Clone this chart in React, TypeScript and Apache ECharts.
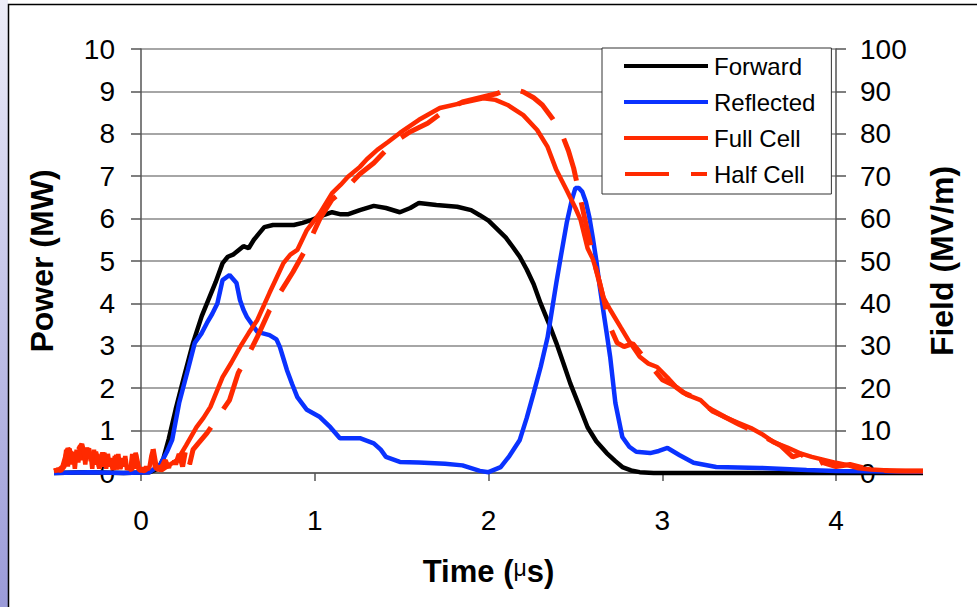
import { useEffect, useRef } from "react";
import * as echarts from "echarts";

// Time axis tick labels (µs)
const timeTicks = [0, 1, 2, 3, 4];

// Forward power (MW)
const forwardT = [-0.5, -0.3, -0.1, 0.05, 0.1, 0.13, 0.16, 0.2, 0.25, 0.3, 0.35, 0.39, 0.43, 0.47, 0.5, 0.53, 0.56, 0.59, 0.62, 0.65, 0.68, 0.71, 0.76, 0.82, 0.88, 0.93, 0.97, 1.03, 1.1, 1.15, 1.19, 1.26, 1.34, 1.41, 1.49, 1.55, 1.6, 1.7, 1.82, 1.9, 1.95, 2.0, 2.05, 2.1, 2.14, 2.18, 2.22, 2.26, 2.3, 2.35, 2.39, 2.43, 2.47, 2.52, 2.57, 2.62, 2.68, 2.73, 2.77, 2.82, 2.87, 2.95, 3.2, 3.6, 4.0, 4.5];
const forwardP = [0, 0.02, 0, 0.02, 0.1, 0.35, 0.8, 1.5, 2.3, 3.07, 3.7, 4.1, 4.5, 4.95, 5.1, 5.15, 5.25, 5.35, 5.3, 5.5, 5.65, 5.8, 5.85, 5.85, 5.85, 5.9, 5.95, 6.05, 6.15, 6.1, 6.1, 6.2, 6.3, 6.25, 6.15, 6.25, 6.37, 6.32, 6.28, 6.2, 6.08, 5.95, 5.75, 5.55, 5.33, 5.1, 4.8, 4.45, 4.0, 3.5, 3.07, 2.6, 2.12, 1.6, 1.08, 0.75, 0.47, 0.28, 0.14, 0.06, 0.02, 0, 0, 0, 0, 0];

// Reflected power (MW)
const reflectedT = [-0.5, -0.3, -0.1, 0.05, 0.11, 0.15, 0.18, 0.22, 0.27, 0.31, 0.35, 0.38, 0.41, 0.44, 0.47, 0.51, 0.55, 0.57, 0.59, 0.61, 0.64, 0.67, 0.74, 0.78, 0.8, 0.82, 0.84, 0.87, 0.9, 0.955, 1.03, 1.09, 1.145, 1.26, 1.34, 1.38, 1.41, 1.49, 1.6, 1.75, 1.85, 1.95, 2.0, 2.07, 2.12, 2.18, 2.22, 2.26, 2.3, 2.34, 2.39, 2.42, 2.45, 2.48, 2.5, 2.52, 2.54, 2.56, 2.58, 2.6, 2.62, 2.64, 2.66, 2.68, 2.7, 2.73, 2.77, 2.81, 2.85, 2.93, 2.98, 3.03, 3.1, 3.18, 3.31, 3.56, 3.83, 4.0, 4.5];
const reflectedP = [0, 0.02, 0, 0.02, 0.19, 0.5, 0.78, 1.65, 2.43, 3.07, 3.3, 3.54, 3.75, 4.0, 4.55, 4.67, 4.48, 4.08, 3.85, 3.68, 3.5, 3.33, 3.25, 3.15, 2.97, 2.7, 2.43, 2.1, 1.79, 1.49, 1.32, 1.08, 0.82, 0.82, 0.7, 0.55, 0.38, 0.26, 0.25, 0.22, 0.18, 0.05, 0.02, 0.14, 0.4, 0.78, 1.3, 1.89, 2.5, 3.2, 4.48, 5.2, 5.9, 6.45, 6.72, 6.72, 6.63, 6.4, 6.04, 5.55, 5.02, 4.4, 3.84, 3.3, 2.74, 1.65, 0.85, 0.62, 0.5, 0.47, 0.52, 0.59, 0.42, 0.24, 0.14, 0.12, 0.07, 0.05, 0.03];

// Full cell field (MV/m)
const fullT = [-0.5, -0.48, -0.46, -0.44, -0.43, -0.42, -0.41, -0.4, -0.39, -0.38, -0.37, -0.36, -0.35, -0.34, -0.33, -0.32, -0.31, -0.3, -0.29, -0.28, -0.27, -0.26, -0.25, -0.24, -0.23, -0.22, -0.21, -0.2, -0.19, -0.18, -0.17, -0.16, -0.15, -0.14, -0.13, -0.12, -0.11, -0.1, -0.09, -0.08, -0.07, -0.06, -0.05, -0.04, -0.03, -0.02, -0.01, 0.0, 0.01, 0.02, 0.03, 0.04, 0.05, 0.06, 0.07, 0.08, 0.09, 0.1, 0.12, 0.16, 0.21, 0.26, 0.32, 0.36, 0.4, 0.47, 0.52, 0.57, 0.62, 0.67, 0.74, 0.78, 0.82, 0.86, 0.9, 0.955, 1.03, 1.1, 1.15, 1.19, 1.26, 1.3, 1.36, 1.42, 1.49, 1.6, 1.72, 1.85, 1.97, 2.04, 2.11, 2.2, 2.28, 2.34, 2.39, 2.45, 2.5, 2.53, 2.57, 2.6, 2.64, 2.66, 2.7, 2.76, 2.81, 2.87, 2.92, 2.97, 3.03, 3.08, 3.14, 3.22, 3.29, 3.37, 3.44, 3.51, 3.58, 3.64, 3.72, 3.79, 3.86, 3.93, 4.0, 4.06, 4.12, 4.2, 4.3, 4.4, 4.5];
const fullF = [0.5, 0.8, 0.5, 1.5, 5.5, 1.5, 5.8, 2, 5, 1, 5.5, 2.5, 6.5, 3, 6, 2, 6, 3.5, 5, 1, 5.5, 2, 4.5, 1, 4, 1.5, 4.8, 1, 4.5, 1.5, 3.5, 1, 4, 0.8, 4.5, 1, 3.5, 1.5, 4, 0.8, 1.5, 0.8, 4.5, 1, 4.8, 1.5, 0.8, 0.5, 1.2, 0.6, 1.5, 0.8, 1.5, 4, 5.5, 1.5, 1, 0.8, 0.7, 1.8, 3.1, 6.5, 10.8, 13, 15.6, 22.6, 26, 29.7, 33, 36.1, 42.5, 46, 49.5, 51.5, 52.6, 57.3, 61.3, 66, 68, 69.8, 72.2, 74, 76.2, 78, 80.2, 83.3, 86.1, 87.3, 88.4, 88, 86.8, 84.4, 80.9, 76.9, 71.5, 66.7, 62.5, 59.7, 53, 50.5, 45, 41.5, 38.5, 34.4, 31, 27.4, 25.8, 25, 22.5, 20.3, 18.5, 17.2, 14.5, 13, 11.8, 10.6, 9, 7.3, 6, 4.7, 3.8, 3.1, 2.4, 1.9, 1.2, 0.8, 0.6, 0.5, 0.5];

// Half cell field (MV/m)
const halfT = [-0.5, -0.47, -0.45, -0.42, -0.4, -0.38, -0.36, -0.34, -0.32, -0.3, -0.28, -0.26, -0.24, -0.22, -0.2, -0.18, -0.16, -0.14, -0.12, -0.1, -0.08, -0.05, -0.03, -0.01, 0.02, 0.05, 0.07, 0.09, 0.12, 0.14, 0.16, 0.18, 0.2, 0.22, 0.24, 0.26, 0.28, 0.3, 0.33, 0.38, 0.44, 0.51, 0.56, 0.62, 0.67, 0.74, 0.8, 0.875, 0.955, 1.03, 1.1, 1.19, 1.26, 1.34, 1.45, 1.55, 1.65, 1.75, 1.85, 1.95, 2.05, 2.12, 2.2, 2.26, 2.31, 2.37, 2.42, 2.46, 2.49, 2.53, 2.57, 2.61, 2.66, 2.7, 2.74, 2.78, 2.83, 2.88, 2.94, 3.0, 3.06, 3.12, 3.2, 3.28, 3.36, 3.44, 3.52, 3.6, 3.68, 3.75, 3.8, 3.87, 3.92, 4.0, 4.08, 4.16, 4.25, 4.35, 4.5];
const halfF = [0.5, 0.8, 1.5, 5.8, 4.5, 1.5, 5.5, 6.8, 3.5, 5.8, 1.2, 5, 1.5, 4.8, 1.5, 4.5, 0.8, 4.2, 1, 3.8, 0.6, 1, 4.5, 0.8, 0.5, 1.5, 5.8, 1, 1.5, 3, 1.2, 5, 2, 4.5, 1.5, 6, 2, 5.5, 7, 9.4, 13, 17.2, 23.6, 28, 32.1, 38.4, 42.5, 47.4, 53.3, 60, 64.5, 67.5, 70.5, 73.1, 77.8, 80.5, 82.5, 85.5, 87.5, 88.5, 89.5, 90.8, 89.9, 88.5, 86.8, 83.5, 80.2, 76, 71.9, 64.5, 57, 49.5, 41.5, 34.4, 30.7, 29.8, 30.5, 28, 25, 22, 20.8, 19, 17.5, 15, 13.2, 11.5, 10, 8.2, 6.5, 3.8, 4.5, 1.4, 2.5, 1.5, 2, 1.2, 0.6, 0.5, 0.5];

const zip = (t: number[], v: number[]) => t.map((x, i) => [x, v[i]]);

const FONT = "Liberation Sans, Arial, sans-serif";
const BLUE = "#0a32ff";
const RED = "#ff2a00";
const AXIS = "#555555";

export default function App() {
  const ref = useRef<HTMLDivElement>(null);
  useEffect(() => {
    document.body.style.margin = "0";
    const chart = echarts.init(ref.current!, null, { renderer: "svg" });
    const lineSeries = (name: string, t: number[], v: number[], yIdx: number, color: string, width: number, z: number, type: any = "solid") => ({
      name,
      type: "line",
      xAxisIndex: 1,
      yAxisIndex: yIdx,
      clip: false,
      showSymbol: false,
      symbol: "none",
      data: zip(t, v),
      itemStyle: { color },
      lineStyle: { color, width, type },
      z,
    });
    chart.setOption({
      animation: false,
      backgroundColor: "#ffffff",
      textStyle: { fontFamily: FONT },
      graphic: [
        {
          type: "rect",
          z: -10,
          shape: { x: 0, y: 0, width: 8, height: 607 },
          style: {
            fill: new echarts.graphic.LinearGradient(0, 0, 0, 1, [
              { offset: 0, color: "#ededf8" },
              { offset: 1, color: "#9a9ad8" },
            ]),
          },
        },
        {
          type: "rect",
          z: -10,
          shape: { x: 8.5, y: 4.5, width: 1000, height: 700 },
          style: { fill: "#ffffff", stroke: "#000000", lineWidth: 1.5 },
        },
      ],
      grid: [
        { left: 141, right: 141, top: 49, bottom: 134 },
        { left: 54, right: 54, top: 49, bottom: 134 },
      ],
      legend: {
        orient: "vertical",
        left: 602,
        top: 48,
        padding: [6, 16, 8, 22],
        itemWidth: 84,
        itemHeight: 4,
        itemGap: 12,
        borderColor: "#333333",
        borderWidth: 1,
        backgroundColor: "#ffffff",
        textStyle: { fontFamily: FONT, fontSize: 24, color: "#000000", padding: [0, 0, 0, 1] },
        data: [
          { name: "Forward", icon: "rect" },
          { name: "Reflected", icon: "rect" },
          { name: "Full Cell", icon: "rect" },
          { name: "Half Cell", icon: "path://M2,0H46V4H2Z M68,0H84V4H68Z" },
        ],
      },
      xAxis: [
        {
          type: "value",
          gridIndex: 0,
          min: 0,
          max: 4,
          interval: 1,
          name: "Time ({mu|μ}s)",
          nameLocation: "middle",
          nameGap: 83,
          nameTextStyle: {
            fontFamily: FONT,
            fontSize: 31,
            fontWeight: "bold",
            color: "#000",
            rich: {
              mu: { fontFamily: FONT, fontSize: 23, fontWeight: "normal", color: "#000", verticalAlign: "top" },
            },
          },
          axisLine: { show: true, onZero: false, lineStyle: { color: AXIS, width: 1.5 } },
          axisTick: { show: true, length: 8, lineStyle: { color: AXIS, width: 1.5 } },
          axisLabel: {
            margin: 33,
            fontSize: 28,
            color: "#000",
            fontFamily: FONT,
            formatter: (v: number) => (timeTicks.includes(v) ? String(v) : ""),
          },
          splitLine: { show: false },
        },
        { type: "value", gridIndex: 1, min: -0.5, max: 4.5, show: false },
      ],
      yAxis: [
        {
          type: "value",
          gridIndex: 0,
          min: 0,
          max: 10,
          interval: 1,
          position: "left",
          name: "Power (MW)",
          nameLocation: "middle",
          nameGap: 83,
          nameRotate: 90,
          nameTextStyle: { fontFamily: FONT, fontSize: 32, fontWeight: "bold", color: "#000" },
          axisLine: { show: true, lineStyle: { color: AXIS, width: 1.5 } },
          axisTick: { show: true, length: 10, lineStyle: { color: AXIS, width: 1.5 } },
          axisLabel: { margin: 26, fontSize: 28, color: "#000", fontFamily: FONT },
          splitLine: { show: true, lineStyle: { color: "#888", width: 1.5 } },
        },
        {
          type: "value",
          gridIndex: 0,
          min: 0,
          max: 100,
          interval: 10,
          position: "right",
          name: "Field (MV/m)",
          nameLocation: "middle",
          nameGap: 90,
          nameRotate: 90,
          nameTextStyle: { fontFamily: FONT, fontSize: 32, fontWeight: "bold", color: "#000" },
          axisLine: { show: true, lineStyle: { color: AXIS, width: 1.5 } },
          axisTick: { show: true, length: 10, lineStyle: { color: AXIS, width: 1.5 } },
          axisLabel: { margin: 24, fontSize: 28, color: "#000", fontFamily: FONT },
          splitLine: { show: false },
        },
        { type: "value", gridIndex: 1, min: 0, max: 10, show: false },
        { type: "value", gridIndex: 1, min: 0, max: 100, show: false },
      ],
      series: [
        lineSeries("Forward", forwardT, forwardP, 2, "#000000", 4.5, 2),
        lineSeries("Reflected", reflectedT, reflectedP, 2, BLUE, 4.5, 3),
        lineSeries("Full Cell", fullT, fullF, 3, RED, 4.5, 4),
        lineSeries("Half Cell", halfT, halfF, 3, RED, 5, 5, [44, 22]),
      ],
    });
    return () => chart.dispose();
  }, []);
  return <div ref={ref} style={{ width: 977, height: 607 }} />;
}
